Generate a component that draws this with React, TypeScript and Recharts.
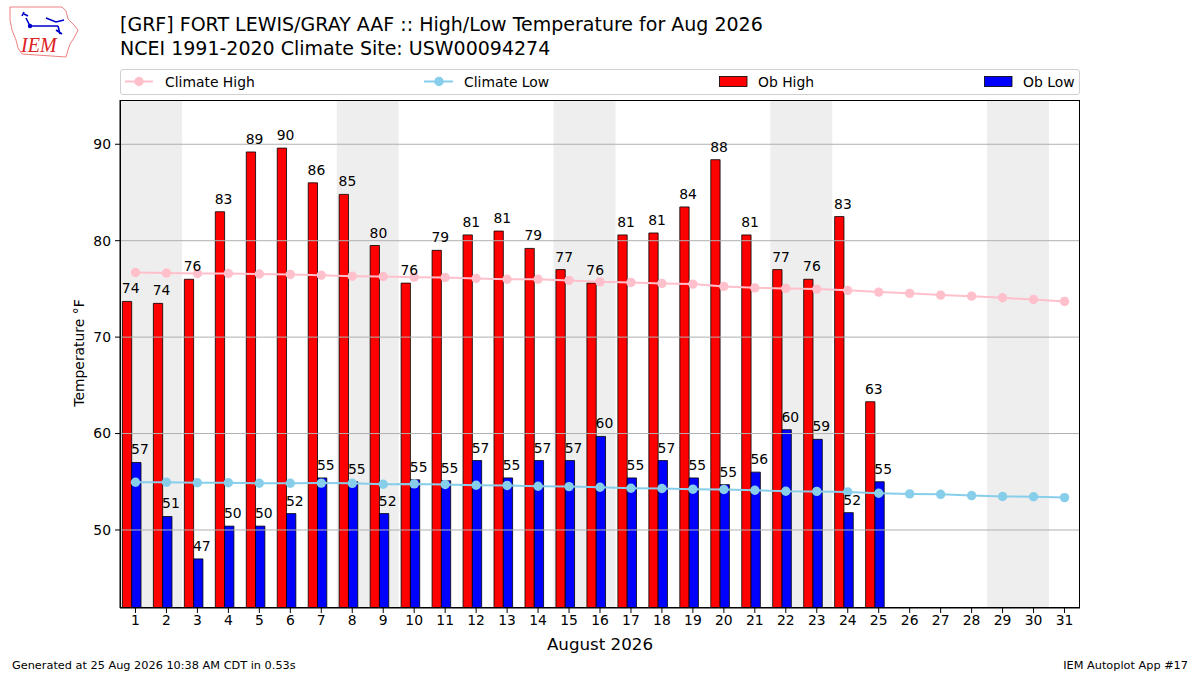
import React from 'react';
import {
  ComposedChart, Bar, Line, XAxis, YAxis, ReferenceArea, ReferenceLine, LabelList, Rectangle,
} from 'recharts';

const days = [1, 2, 3, 4, 5, 6, 7, 8, 9, 10, 11, 12, 13, 14, 15, 16, 17, 18, 19, 20, 21, 22, 23, 24, 25, 26, 27, 28, 29, 30, 31];
const obHigh = [73.7, 73.5, 76.0, 83.0, 89.2, 89.6, 86.0, 84.8, 79.5, 75.6, 79.0, 80.6, 81.0, 79.2, 77.0, 75.6, 80.6, 80.8, 83.5, 88.4, 80.6, 77.0, 76.0, 82.5, 63.3];
const obLow = [57.0, 51.4, 47.0, 50.4, 50.4, 51.7, 55.4, 55.0, 51.7, 55.2, 55.1, 57.2, 55.4, 57.2, 57.2, 59.7, 55.4, 57.2, 55.4, 54.7, 56.0, 60.4, 59.4, 51.8, 55.0];
const climHigh = [76.7, 76.65, 76.6, 76.6, 76.55, 76.5, 76.42, 76.32, 76.29, 76.22, 76.18, 76.08, 76.0, 76.0, 75.88, 75.73, 75.67, 75.57, 75.5, 75.26, 75.11, 75.05, 74.98, 74.85, 74.67, 74.54, 74.36, 74.25, 74.08, 73.9, 73.7];
const climLow = [54.95, 54.95, 54.9, 54.9, 54.85, 54.85, 54.86, 54.84, 54.74, 54.78, 54.72, 54.64, 54.62, 54.54, 54.5, 54.43, 54.33, 54.3, 54.23, 54.2, 54.12, 54.02, 54.0, 53.95, 53.81, 53.74, 53.7, 53.57, 53.47, 53.45, 53.36];
const weekends = [[1, 2], [8, 9], [15, 16], [22, 23], [29, 30]];
const yTicks = [50, 60, 70, 80, 90];

const data = days.map((d, i) => ({
  day: d,
  high: obHigh[i],
  low: obLow[i],
  cHigh: climHigh[i],
  cLow: climLow[i],
}));

const FONT = '"DejaVu Sans", sans-serif';
const SHIFT = -3.6;

const ShiftedBar = (props: any) => {
  if (props.height == null || props.value == null) return null;
  return <Rectangle {...props} x={props.x + SHIFT} />;
};

const fmt = (v: any) => (v == null ? '' : String(Math.round(Number(v))));

export default function App() {
  return (
    <div style={{ position: 'absolute', left: 0, top: 0, width: 1200, height: 675, background: '#fff', fontFamily: FONT, overflow: 'hidden' }}>
      <ComposedChart
        width={1200}
        height={675}
        data={data}
        margin={{ top: 100, right: 120, bottom: 37, left: 70 }}
        barGap={0}
        barSize={9.3}
      >
        {weekends.map(([a, b]) => (
          <ReferenceArea key={a} x1={a} x2={b} fill="#eeeeee" fillOpacity={1} stroke="none" ifOverflow="hidden" />
        ))}
        {yTicks.map((t) => (
          <ReferenceLine key={t} y={t} stroke="#b0b0b0" strokeWidth={1} />
        ))}
        <XAxis
          dataKey="day"
          type="category"
          height={30}
          interval={0}
          tickSize={5}
          tickMargin={2}
          axisLine={{ stroke: '#000', strokeWidth: 1 }}
          tickLine={{ stroke: '#000' }}
          tick={{ fill: '#000', fontSize: 13.9, fontFamily: FONT }}
        />
        <YAxis
          type="number"
          domain={[41.91, 94.59]}
          ticks={yTicks}
          allowDataOverflow
          width={50}
          tickSize={5}
          tickMargin={4}
          axisLine={{ stroke: '#000', strokeWidth: 1 }}
          tickLine={{ stroke: '#000' }}
          tick={{ fill: '#000', fontSize: 13.9, fontFamily: FONT }}
        />
        <Bar dataKey="high" name="Ob High" fill="#ff0000" stroke="#000" strokeWidth={0.8} isAnimationActive={false} shape={ShiftedBar}>
          <LabelList dataKey="high" position="top" offset={8} formatter={fmt} fill="#000" fontSize={13.9} fontFamily={FONT} />
        </Bar>
        <Bar dataKey="low" name="Ob Low" fill="#0000ff" stroke="#000" strokeWidth={0.8} isAnimationActive={false} shape={ShiftedBar}>
          <LabelList dataKey="low" position="top" offset={8} formatter={fmt} fill="#000" fontSize={13.9} fontFamily={FONT} />
        </Bar>
        <Line dataKey="cHigh" name="Climate High" type="linear" stroke="#ffc0cb" strokeWidth={2} dot={{ r: 4.7, fill: '#ffc0cb', stroke: 'none' }} activeDot={false} isAnimationActive={false} />
        <Line dataKey="cLow" name="Climate Low" type="linear" stroke="#87ceeb" strokeWidth={2} dot={{ r: 4.7, fill: '#87ceeb', stroke: 'none' }} activeDot={false} isAnimationActive={false} />
      </ComposedChart>

      {/* plot frame */}
      <div style={{ position: 'absolute', left: 120, top: 100, width: 960, height: 508, border: '1px solid #000', boxSizing: 'border-box', pointerEvents: 'none' }} />

      {/* legend */}
      <div style={{ position: 'absolute', left: 120, top: 69, width: 960, height: 26, border: '1px solid #d0d0d0', borderRadius: 3, boxSizing: 'border-box', background: '#fff' }} />
      <svg width={1200} height={675} style={{ position: 'absolute', left: 0, top: 0, pointerEvents: 'none' }}>
        <g fontFamily={FONT} fill="#000">
          <line x1={125} y1={81.5} x2={153} y2={81.5} stroke="#ffc0cb" strokeWidth={2} />
          <circle cx={139} cy={81.5} r={4.7} fill="#ffc0cb" />
          <text x={165} y={86.5} fontSize={13.9}>Climate High</text>
          <line x1={424} y1={81.5} x2={453} y2={81.5} stroke="#87ceeb" strokeWidth={2} />
          <circle cx={439} cy={81.5} r={4.7} fill="#87ceeb" />
          <text x={464} y={86.5} fontSize={13.9}>Climate Low</text>
          <rect x={719.5} y={76.5} width={27.5} height={10} fill="#ff0000" stroke="#000" strokeWidth={0.8} />
          <text x={758} y={86.5} fontSize={13.9}>Ob High</text>
          <rect x={984.5} y={76.5} width={27.5} height={10} fill="#0000ff" stroke="#000" strokeWidth={0.8} />
          <text x={1023} y={86.5} fontSize={13.9}>Ob Low</text>

          <text x={120} y={31} fontSize={19}>[GRF] FORT LEWIS/GRAY AAF :: High/Low Temperature for Aug 2026</text>
          <text x={120} y={54.5} fontSize={19}>NCEI 1991-2020 Climate Site: USW00094274</text>

          <text x={600} y={650} fontSize={16.7} textAnchor="middle">August 2026</text>
          <text x={0} y={0} fontSize={13.9} textAnchor="middle" transform="translate(84,353) rotate(-90)">Temperature °F</text>

          <text x={12} y={669} fontSize={11.3}>Generated at 25 Aug 2026 10:38 AM CDT in 0.53s</text>
          <text x={1188} y={669} fontSize={11.3} textAnchor="end">IEM Autoplot App #17</text>
        </g>
        {/* IEM logo */}
        <g>
          <path d="M10,7 L62,7 L66,11 L68,19 L74,25 L78,30 L74,38 L70,44 L68,50 L66,57 L22,54 L18,48 L16,40 L12,30 L10,20 Z" fill="none" stroke="#f08080" strokeWidth={1} />
          <path d="M22,16 L24,12 M24,14 L28,16 M26,18 L30,26 L58,26 M46,18 L56,22 L64,20 M58,26 L60,34 M56,30 L62,34" stroke="#0000cc" strokeWidth={1.6} fill="none" />
          <circle cx={30} cy={26} r={2.2} fill="#0000cc" />
          <text x={21} y={52} fontFamily="'Liberation Serif', serif" fontStyle="italic" fontSize={20} fill="#dd2222">IEM</text>
        </g>
      </svg>
    </div>
  );
}
